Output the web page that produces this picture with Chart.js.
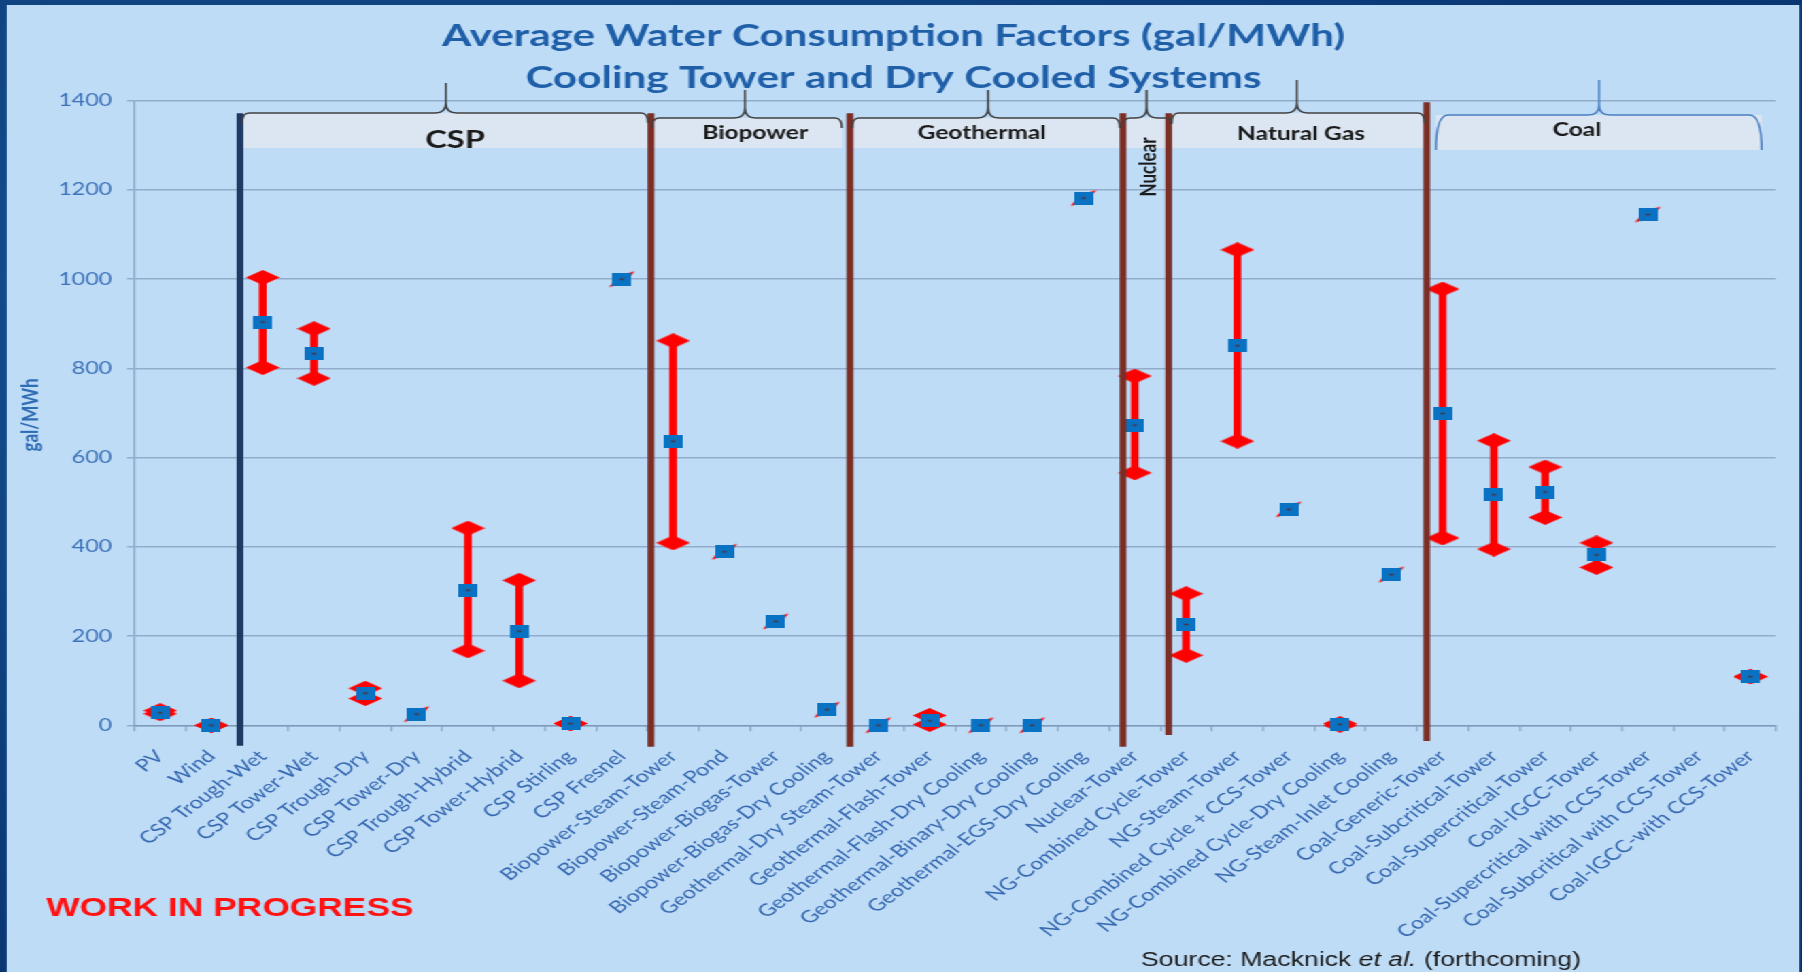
<!DOCTYPE html>
<html>
<head>
<meta charset="utf-8">
<title>Average Water Consumption Factors</title>
<script src="https://cdn.jsdelivr.net/npm/chart.js@4.4.1/dist/chart.umd.min.js"></script>
<style>
    html, body {
        margin: 0;
        padding: 0;
        width: 1802px;
        height: 972px;
        overflow: hidden;
        background: radial-gradient(ellipse at 20% 30%, #16508f 0%, #0b3a78 60%, #082f66 100%);
    }
    /* the slide is laid out at 1325px wide and stretched out to the window */
    #stage {
        position: absolute;
        left: 0;
        top: 0;
        width: 1325px;
        height: 972px;
        transform: scaleX(1.36);
        transform-origin: 0 0;
    }
    #panel {
        position: absolute;
        left: 5px;
        top: 5px;
        width: 1318px;
        height: 967px;
        background: #bfdcf7;
    }
    #waterChart {
        position: absolute;
        left: 0;
        top: 0;
    }
</style>
</head>
<body>
<div id="stage">
    <div id="panel"></div>
    <canvas id="waterChart" width="1325" height="972"></canvas>
</div>
<script>
const categories = [
    'PV', 'Wind', 'CSP Trough-Wet', 'CSP Tower-Wet', 'CSP Trough-Dry', 'CSP Tower-Dry',
    'CSP Trough-Hybrid', 'CSP Tower-Hybrid', 'CSP Stirling', 'CSP Fresnel',
    'Biopower-Steam-Tower', 'Biopower-Steam-Pond', 'Biopower-Biogas-Tower', 'Biopower-Biogas-Dry Cooling',
    'Geothermal-Dry Steam-Tower', 'Geothermal-Flash-Tower', 'Geothermal-Flash-Dry Cooling',
    'Geothermal-Binary-Dry Cooling', 'Geothermal-EGS-Dry Cooling', 'Nuclear-Tower',
    'NG-Combined Cycle-Tower', 'NG-Steam-Tower', 'NG-Combined Cycle + CCS-Tower',
    'NG-Combined Cycle-Dry Cooling', 'NG-Steam-Inlet Cooling',
    'Coal-Generic-Tower', 'Coal-Subcritical-Tower', 'Coal-Supercritical-Tower', 'Coal-IGCC-Tower',
    'Coal-Supercritical with CCS-Tower', 'Coal-Subcritical with CCS-Tower', 'Coal-IGCC-with CCS-Tower',
];

// gal/MWh; null where there is no estimate / no range
const avgFactor = [
    28, 0, 904, 833, 72, 25, 303, 211, 4, 1000,
    637, 389, 233, 35,
    0, 10, 0, 0, 1182, 673,
    226, 851, 484, 2, 338,
    699, 517, 523, 382, 1145, null, 109,
];
const minFactor = [
    26, 0, 802, 778, 60, null, 167, 100, 4, null,
    409, null, null, null,
    null, 2, null, null, null, 566,
    157, 637, null, 0, null,
    420, 395, 466, 354, null, null, 109,
];
const maxFactor = [
    33, 0, 1004, 889, 83, null, 442, 325, 4, null,
    862, null, null, null,
    null, 22, null, null, null, 783,
    295, 1066, null, 4, null,
    978, 638, 579, 409, null, null, 109,
];

const yTickValues = [0, 200, 400, 600, 800, 1000, 1200, 1400];

const titleLines = ['Average Water Consumption Factors (gal/MWh)', 'Cooling Tower and Dry Cooled Systems'];
const yTitle = 'gal/MWh';

// technology groups across the top; positions are in category-index units
const groups = [
    { name: 'CSP', from: 1.60, to: 9.51, peak: 5.57, textAt: 5.75, lineY: 113, peakY: 83, textY: 140, size: 24, drop: 10 },
    { name: 'Biopower', from: 9.59, to: 13.29, peak: 11.40, textAt: 11.60, lineY: 118, peakY: 90, textY: 133, size: 18, drop: 10 },
    { name: 'Geothermal', from: 13.49, to: 18.71, peak: 16.14, textAt: 16.02, lineY: 118, peakY: 90, textY: 133, size: 18, drop: 10 },
    { name: 'Nuclear', from: 18.79, to: 19.72, peak: 19.23, textAt: 19.27, lineY: 118, peakY: 90, textY: 167, size: 17, drop: 6, vertical: true },
    { name: 'Natural Gas', from: 19.72, to: 24.65, peak: 22.16, textAt: 22.24, lineY: 113, peakY: 80, textY: 134, size: 18, drop: 10 },
    { name: 'Coal', from: 24.87, to: 31.22, peak: 28.05, textAt: 27.62, lineY: 115, peakY: 80, textY: 130, size: 18, drop: 35, color: '#4a7fc1' },
];

// separators between the groups, top/bottom in gal/MWh
const dividers = [
    { at: 1.556, top: 1372, bottom: -46, color: '#1f3864' },
    { at: 9.568, top: 1372, bottom: -48, color: '#7a2e25' },
    { at: 13.447, top: 1372, bottom: -48, color: '#7a2e25' },
    { at: 18.77, top: 1372, bottom: -48, color: '#7a2e25' },
    { at: 19.66, top: 1372, bottom: -22, color: '#7a2e25' },
    { at: 24.69, top: 1397, bottom: -35, color: '#7a2e25' },
];

function makeMarker(w, h, draw) {
    const c = document.createElement('canvas');
    c.width = w;
    c.height = h;
    draw(c.getContext('2d'), w, h);
    return c;
}

function diamondPath(g, w, h) {
    g.beginPath();
    g.moveTo(0, h / 2);
    g.lineTo(w / 2, 0);
    g.lineTo(w, h / 2);
    g.lineTo(w / 2, h);
    g.closePath();
}

const diamondMark = makeMarker(25, 15, (g, w, h) => {
    g.fillStyle = '#ff0000';
    diamondPath(g, w, h);
    g.fill();
});

const skewMark = makeMarker(25, 8, (g, w, h) => {
    g.fillStyle = '#ff0000';
    diamondPath(g, w, h);
    g.fill();
});

const squareMark = makeMarker(14, 13, (g, w, h) => {
    g.fillStyle = '#0a72c2';
    g.fillRect(0, 0, w, h);
    g.fillStyle = '#5a2a2a';
    g.fillRect(w / 2 - 1.5, h / 2 - 0.75, 3, 1.5);
});

const overlayPlugin = {
    id: 'slideOverlay',
    afterDatasetsDraw(chart) {
        const { ctx } = chart;
        const xs = chart.scales.x;
        const ys = chart.scales.y;

        ctx.save();

        // label boxes under the braces
        ctx.fillStyle = '#dce6f2';
        groups.forEach((grp) => {
            const x0 = xs.getPixelForValue(grp.from);
            const x1 = xs.getPixelForValue(grp.to);
            const bottom = grp.drop > 20 ? grp.lineY + grp.drop : 148;
            ctx.fillRect(x0, grp.lineY, x1 - x0, bottom - grp.lineY);
        });

        dividers.forEach((d) => {
            const x = xs.getPixelForValue(d.at);
            ctx.strokeStyle = d.color;
            ctx.lineWidth = 5;
            ctx.beginPath();
            ctx.moveTo(x, ys.getPixelForValue(d.top));
            ctx.lineTo(x, ys.getPixelForValue(d.bottom));
            ctx.stroke();
        });

        groups.forEach((grp) => {
            const x0 = xs.getPixelForValue(grp.from);
            const x1 = xs.getPixelForValue(grp.to);
            const xp = xs.getPixelForValue(grp.peak);
            const y = grp.lineY;
            const r = grp.drop > 20 ? 9 : 5;
            ctx.strokeStyle = grp.color || '#404040';
            ctx.lineWidth = 1.5;
            ctx.beginPath();
            ctx.moveTo(x0, y + grp.drop);
            ctx.quadraticCurveTo(x0, y, x0 + r, y);
            ctx.lineTo(xp - 8, y);
            ctx.quadraticCurveTo(xp, y, xp, y - 10);
            ctx.lineTo(xp, grp.peakY);
            ctx.moveTo(xp, y - 10);
            ctx.quadraticCurveTo(xp, y, xp + 8, y);
            ctx.lineTo(x1 - r, y);
            ctx.quadraticCurveTo(x1, y, x1, y + grp.drop);
            ctx.stroke();

            ctx.fillStyle = '#1a1a1a';
            ctx.font = `bold ${grp.size}px Lato`;
            ctx.textAlign = 'center';
            ctx.textBaseline = 'middle';
            const tx = xs.getPixelForValue(grp.textAt);
            if (grp.vertical) {
                ctx.save();
                ctx.translate(tx, grp.textY);
                ctx.rotate(-Math.PI / 2);
                ctx.fillText(grp.name, 0, 0);
                ctx.restore();
            } else {
                ctx.fillText(grp.name, tx, grp.textY);
            }
        });

        // title
        ctx.fillStyle = '#1f5fa8';
        ctx.font = 'bold 31px Lato';
        ctx.textAlign = 'center';
        ctx.textBaseline = 'middle';
        ctx.fillText(titleLines[0], 657, 36);
        ctx.fillText(titleLines[1], 657, 78);

        // axis title
        ctx.save();
        ctx.translate(23, 415);
        ctx.rotate(-Math.PI / 2);
        ctx.fillStyle = '#2f6cb4';
        ctx.font = 'bold 17px Lato';
        ctx.fillText(yTitle, 0, 0);
        ctx.restore();

        ctx.textAlign = 'left';
        ctx.textBaseline = 'alphabetic';
        ctx.fillStyle = '#ff1212';
        ctx.font = 'bold 26px "Liberation Sans"';
        ctx.fillText('WORK IN PROGRESS', 34, 916);

        ctx.fillStyle = '#1a1a1a';
        let sx = 839;
        const sourceParts = [
            ['Source: Macknick ', 'normal'],
            ['et al.', 'italic'],
            [' (forthcoming)', 'normal'],
        ];
        sourceParts.forEach(([txt, style]) => {
            ctx.font = `${style} 19.6px "Liberation Sans"`;
            ctx.fillText(txt, sx, 966);
            sx += ctx.measureText(txt).width;
        });

        ctx.restore();
    },
};

const gridColor = 'rgba(110, 135, 170, 0.55)';

new Chart(document.getElementById('waterChart'), {
    type: 'bar',
    data: {
        labels: categories,
        datasets: [
            {
                type: 'line',
                label: 'Average',
                data: avgFactor,
                pointStyle: squareMark,
                pointRadius: 7,
                showLine: false,
                clip: false,
                order: 0,
            },
            {
                type: 'line',
                label: 'Single estimate',
                data: avgFactor.map((v, i) => (minFactor[i] === null ? v : null)),
                pointStyle: skewMark,
                pointRotation: -40,
                pointRadius: 7,
                showLine: false,
                clip: false,
                order: 1,
            },
            {
                type: 'line',
                label: 'Maximum',
                data: maxFactor,
                pointStyle: diamondMark,
                pointRadius: 7,
                showLine: false,
                clip: false,
                order: 2,
            },
            {
                type: 'line',
                label: 'Minimum',
                data: minFactor,
                pointStyle: diamondMark,
                pointRadius: 7,
                showLine: false,
                clip: false,
                order: 2,
            },
            {
                type: 'bar',
                label: 'Range',
                data: minFactor.map((lo, i) => (lo === null ? null : [lo, maxFactor[i]])),
                backgroundColor: '#ff0000',
                borderWidth: 0,
                barThickness: 5,
                clip: false,
                order: 3,
            },
        ],
    },
    options: {
        responsive: false,
        animation: false,
        events: [],
        layout: {
            padding: { top: 100.8, right: 19.1, left: 0, bottom: 0 },
        },
        plugins: {
            legend: { display: false },
            tooltip: { enabled: false },
            title: { display: false },
        },
        scales: {
            x: {
                offset: true,
                afterFit: (scale) => {
                    scale.height = 246.7;
                },
                grid: {
                    offset: true,
                    drawOnChartArea: false,
                    drawTicks: true,
                    tickLength: 6,
                    color: gridColor,
                    lineWidth: 1.5,
                },
                border: { color: gridColor, width: 1.5 },
                ticks: {
                    autoSkip: false,
                    minRotation: 45,
                    maxRotation: 45,
                    padding: 15,
                    color: '#3568b0',
                    font: { family: 'Lato', size: 17 },
                },
            },
            y: {
                min: 0,
                max: 1400,
                afterFit: (scale) => {
                    scale.width = 98.9;
                },
                afterBuildTicks: (scale) => {
                    scale.ticks = yTickValues.map((v) => ({ value: v }));
                },
                grid: {
                    color: gridColor,
                    lineWidth: 1.5,
                    drawTicks: true,
                    tickLength: 5.5,
                },
                border: { color: gridColor, width: 1.5 },
                ticks: {
                    padding: 11,
                    color: '#3b72b8',
                    font: { family: 'Lato', size: 17 },
                    callback: (value) => String(value),
                },
            },
        },
    },
    plugins: [overlayPlugin],
});
</script>
</body>
</html>
